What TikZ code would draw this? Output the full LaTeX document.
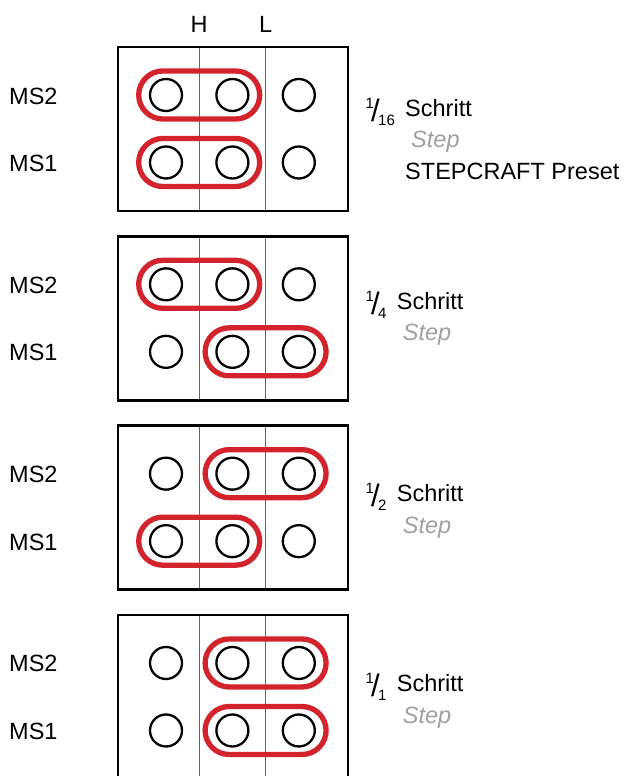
\documentclass[tikz,border=0pt]{standalone}
\usepackage{fontspec}
\setmainfont{Liberation Sans}
\usepackage{xcolor}
\usetikzlibrary{calc}

\definecolor{jumperred}{RGB}{211,35,44}
\definecolor{stepgray}{RGB}{160,160,160}
\definecolor{linegray}{RGB}{100,100,100}

\newcommand{\txt}{\fontsize{23.5}{28}\selectfont}
\newcommand{\stepfrac}[2]{%
  \raisebox{8pt}{\fontsize{15}{15}\selectfont#1}\kern-3pt%
  \raisebox{-5pt}{\fontsize{31}{31}\selectfont/}\kern-1.5pt%
  \raisebox{-9pt}{\fontsize{15}{15}\selectfont#2}}

\begin{document}
\begin{tikzpicture}[x=1pt, y=-1pt,
  every node/.style={font=\txt, inner sep=0pt},
  pin/.style={draw, circle, line width=2.3pt, minimum size=32pt},
  jumper/.style={draw=jumperred, line width=5.3pt, rounded corners=24pt, minimum width=121pt, minimum height=48pt},
  frame/.style={line width=2.7pt},
  divider/.style={draw=linegray, line width=1pt}]
  \useasboundingbox (0,0) rectangle (634,776);
  \clip (0,0) rectangle (634,776);

  % column heads
  \node[anchor=base] (H) at (199.2,33) {H};
  \node[anchor=base] (L) at (265.6,33) {L};

  % blocks: index / denominator / jumper column MS2 / jumper column MS1 / text baseline
  \foreach \n/\den/\ja/\jb/\tb in {1/16/1/1/69, 2/4/1/2/73, 3/2/2/1/76, 4/1/2/2/77} {
    \pgfmathsetmacro{\yt}{47+189.33*(\n-1)}
    \draw[divider] (199.2,\yt) -- (199.2,\yt+164);
    \draw[divider] (265.6,\yt) -- (265.6,\yt+164);
    \draw[frame] (118,\yt) rectangle (348,\yt+164);
    \foreach \r/\ms in {1/2, 2/1} {
      \pgfmathsetmacro{\yr}{\yt+48+67.5*(\r-1)}
      \node[anchor=base west] (ms-\n-\r) at (9,\yr+9) {MS\ms};
      \foreach \c in {1,2,3}
        \node[pin] (c-\n-\r-\c) at ({166+66.4*(\c-1)},\yr) {};
    }
    \pgfmathtruncatemacro{\ka}{\ja+1}
    \pgfmathtruncatemacro{\kb}{\jb+1}
    \node[jumper] (j-\n-1) at ($(c-\n-1-\ja)!0.5!(c-\n-1-\ka)$) {};
    \node[jumper] (j-\n-2) at ($(c-\n-2-\jb)!0.5!(c-\n-2-\kb)$) {};
    % step labels
    \node[anchor=base west] (f-\n) at (365.5,\yt+\tb) {\stepfrac{1}{\den}};
    \node[anchor=base west] (s-\n) at ($(f-\n.base east)+(10,0)$) {Schritt};
    \node[anchor=base west, font=\txt\itshape, text=stepgray] (e-\n) at ($(s-\n.base west)+(6,31.5)$) {Step};
  }
  \node[anchor=base west] (preset) at ($(s-1.base west)+(0,63)$) {STEPCRAFT Preset};
\end{tikzpicture}
\end{document}
